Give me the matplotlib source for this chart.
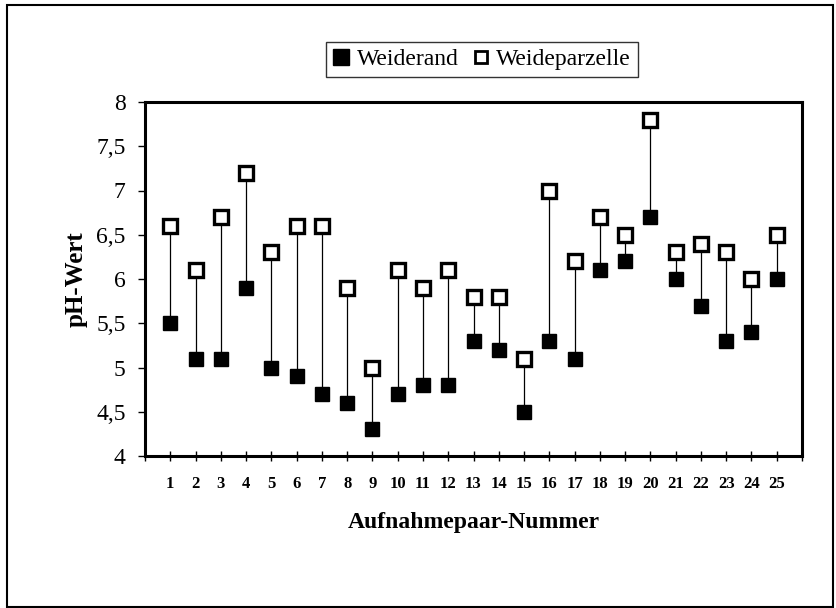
import matplotlib
matplotlib.use("Agg")
import matplotlib.pyplot as plt
from matplotlib.patches import Rectangle
from matplotlib.lines import Line2D

plt.rcParams['font.family'] = ['Liberation Serif', 'DejaVu Serif']

pairs = list(range(1, 26))
weiderand = [5.5, 5.1, 5.1, 5.9, 5.0, 4.9, 4.7, 4.6, 4.3, 4.7, 4.8, 4.8, 5.3,
             5.2, 4.5, 5.3, 5.1, 6.1, 6.2, 6.7, 6.0, 5.7, 5.3, 5.4, 6.0]
weideparzelle = [6.6, 6.1, 6.7, 7.2, 6.3, 6.6, 6.6, 5.9, 5.0, 6.1, 5.9, 6.1, 5.8,
                 5.8, 5.1, 7.0, 6.2, 6.7, 6.5, 7.8, 6.3, 6.4, 6.3, 6.0, 6.5]
y_ticks = [4, 4.5, 5, 5.5, 6, 6.5, 7, 7.5, 8]
y_ticklabels = ["4", "4,5", "5", "5,5", "6", "6,5", "7", "7,5", "8"]

fig = plt.figure(figsize=(8.36, 6.08), dpi=100)
fig.patch.set_facecolor('white')
ax = fig.add_axes([145/836, 1-456/608, (802-145)/836, (456-102)/608])

ax.vlines(pairs, weiderand, weideparzelle, color='black', lw=0.9, zorder=1)
ax.plot(pairs, weiderand, linestyle='none', marker='s', markersize=10,
        markerfacecolor='black', markeredgecolor='black', zorder=3)
ax.plot(pairs, weideparzelle, linestyle='none', marker='s', markersize=9.5,
        markerfacecolor='white', markeredgecolor='black', markeredgewidth=2.4, zorder=3)

ax.set_xlim(0, 26)
ax.set_ylim(4, 8)
ax.set_xticks(range(0, 27))
ax.set_xticklabels([""] + [str(p) for p in pairs] + [""], fontsize=12, fontweight='bold')
ax.set_yticks(y_ticks)
ax.set_yticklabels(y_ticklabels, fontsize=17)
ax.tick_params(axis='x', direction='inout', length=7, width=1, pad=11)
ax.tick_params(axis='y', direction='out', length=5, width=1, pad=9)
for s in ax.spines.values():
    s.set_linewidth(2.2)

ax.set_xlabel("Aufnahmepaar-Nummer", fontsize=17, fontweight='bold', labelpad=14)
ax.set_ylabel("pH-Wert", fontsize=18, fontweight='bold', labelpad=6)

h1 = Line2D([], [], linestyle='none', marker='s', markersize=11,
            markerfacecolor='black', markeredgecolor='black')
h2 = Line2D([], [], linestyle='none', marker='s', markersize=8.5,
            markerfacecolor='white', markeredgecolor='black', markeredgewidth=2)
leg = fig.legend([h1, h2], ["Weiderand", "Weideparzelle"], loc='center',
                 bbox_to_anchor=(482/836, 1-59.5/608), ncol=2, fontsize=17,
                 frameon=True, fancybox=False, edgecolor='black',
                 handlelength=0.7, handletextpad=0.3, columnspacing=0.6,
                 borderpad=0.3, borderaxespad=0)
leg.get_frame().set_linewidth(1.0)

fig.patches.append(Rectangle((7/836, 1-607/608), (833-7)/836, (607-5)/608,
                             transform=fig.transFigure, fill=False,
                             edgecolor='black', lw=1.5))

fig.savefig("out.png", dpi=100)
